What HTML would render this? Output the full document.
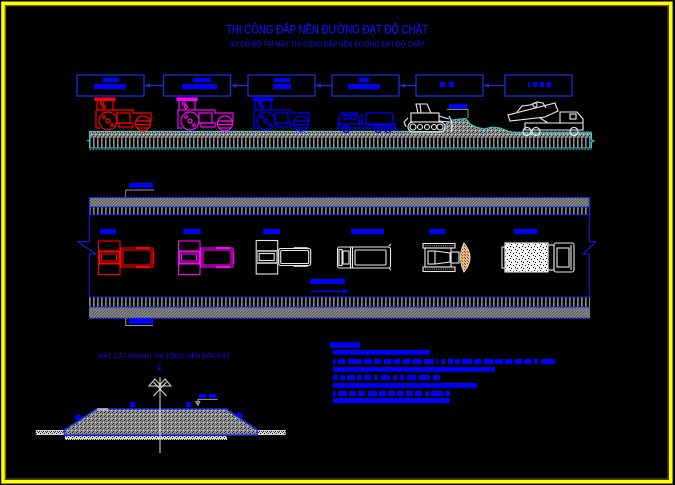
<!DOCTYPE html>
<html>
<head>
<meta charset="utf-8">
<style>
html,body{margin:0;padding:0;background:#000;}
svg{display:block;}
</style>
</head>
<body>
<svg width="675" height="485" viewBox="0 0 675 485" xmlns="http://www.w3.org/2000/svg">
<defs>
  <pattern id="hatch" width="3" height="3" patternUnits="userSpaceOnUse">
    <rect width="3" height="3" fill="#5e5e5e"/>
    <path d="M0 3 L3 0" stroke="#a0a0a0" stroke-width="0.8"/>
  </pattern>
  <pattern id="teeth" width="4" height="20" patternUnits="userSpaceOnUse">
    <rect x="1" y="0" width="1.6" height="20" fill="#8c8c8c"/>
  </pattern>
  <pattern id="gspk" width="4" height="4" patternUnits="userSpaceOnUse">
    <rect width="4" height="4" fill="#8f8f8f"/>
    <rect x="0" y="0" width="1" height="1" fill="#222"/>
    <rect x="2" y="1" width="1" height="1" fill="#333"/>
    <rect x="1" y="3" width="1" height="1" fill="#222"/>
    <rect x="3" y="2" width="1" height="1" fill="#ddd"/>
  </pattern>
  <pattern id="wspk" width="4" height="4" patternUnits="userSpaceOnUse">
    <rect width="4" height="4" fill="#d8d8d8"/>
    <rect x="0" y="1" width="1" height="1" fill="#111"/>
    <rect x="2" y="0" width="1" height="1" fill="#222"/>
    <rect x="3" y="3" width="1" height="1" fill="#111"/>
    <rect x="1" y="3" width="1" height="1" fill="#444"/>
  </pattern>
  <pattern id="wnoise" width="6" height="6" patternUnits="userSpaceOnUse">
    <rect width="6" height="6" fill="#f4f4f4"/>
    <rect x="0" y="0" width="1" height="1" fill="#000"/>
    <rect x="3" y="1" width="1" height="1" fill="#000"/>
    <rect x="5" y="3" width="1" height="1" fill="#000"/>
    <rect x="1" y="4" width="1" height="1" fill="#000"/>
  </pattern>
  <pattern id="orspk" width="3" height="3" patternUnits="userSpaceOnUse">
    <rect width="3" height="3" fill="#f6b07a"/>
    <rect x="0" y="0" width="1" height="1" fill="#553"/>
    <rect x="2" y="2" width="1" height="1" fill="#553"/>
  </pattern>
</defs>

<rect width="675" height="485" fill="#000"/>

<!-- frame -->
<rect x="3" y="3.3" width="667.8" height="478.5" fill="none" stroke="#ffff00" stroke-width="3.6"/>
<rect x="5.6" y="5.8" width="662.5" height="473.3" fill="none" stroke="#7a7a00" stroke-width="1"/>

<!-- titles -->
<text x="226" y="33.5" font-family="Liberation Sans, sans-serif" font-size="12" fill="#1010ff" stroke="#1010ff" stroke-width="0.2" textLength="202" lengthAdjust="spacingAndGlyphs">THI CÔNG ĐẮP NỀN ĐƯỜNG ĐẠT ĐỘ CHẶT</text>
<text x="229" y="46.5" font-family="Liberation Sans, sans-serif" font-size="7" fill="#1010ff" textLength="196" lengthAdjust="spacingAndGlyphs">SƠ ĐỒ BỐ TRÍ MÁY THI CÔNG ĐẮP NỀN ĐƯỜNG ĐẠT ĐỘ CHẶT</text>

<!-- boxes -->
<g fill="none" stroke="#1430d8" stroke-width="1.3">
  <rect x="77" y="75" width="67" height="21"/>
  <rect x="163.5" y="75" width="67" height="21"/>
  <rect x="248" y="75" width="67" height="21"/>
  <rect x="332" y="75" width="67" height="21"/>
  <rect x="416" y="75" width="67" height="21"/>
  <rect x="505" y="75" width="67" height="21"/>
  <line x1="146" y1="85.5" x2="163.5" y2="85.5"/>
  <line x1="233" y1="85.5" x2="248" y2="85.5"/>
  <line x1="317" y1="85.5" x2="332" y2="85.5"/>
  <line x1="401" y1="85.5" x2="416" y2="85.5"/>
  <line x1="485" y1="85.5" x2="505" y2="85.5"/>
</g>
<g fill="#1430d8">
  <path d="M144 85.5 L150 83.5 L150 87.5 Z"/>
  <path d="M230.5 85.5 L236.5 83.5 L236.5 87.5 Z"/>
  <path d="M315 85.5 L321 83.5 L321 87.5 Z"/>
  <path d="M399 85.5 L405 83.5 L405 87.5 Z"/>
  <path d="M483 85.5 L489 83.5 L489 87.5 Z"/>
</g>
<g fill="#0000ff">
  <rect x="103" y="78" width="16" height="4"/><rect x="94" y="84" width="32" height="5"/>
  <rect x="193" y="78" width="18" height="4"/><rect x="182" y="84" width="35" height="5"/>
  <rect x="274" y="78" width="16" height="4"/><rect x="273" y="84" width="18" height="5"/>
  <rect x="359" y="78" width="10" height="4"/><rect x="348" y="84" width="32" height="5"/>
  <rect x="440" y="82" width="5" height="5"/><rect x="449" y="82" width="5" height="5"/>
  <rect x="528" y="82" width="2" height="5"/><rect x="533" y="82" width="4" height="5"/><rect x="540" y="82" width="4" height="5"/><rect x="546.5" y="82" width="4.5" height="5"/>
</g>

<!-- elevation road strip -->
<rect x="89.5" y="131.5" width="502" height="5.5" fill="url(#gspk)"/>
<rect x="89.5" y="137" width="502" height="11" fill="url(#teeth)"/>
<line x1="89.5" y1="137.3" x2="591.5" y2="137.3" stroke="#777" stroke-width="0.8"/>
<line x1="89.5" y1="149.6" x2="591.5" y2="149.6" stroke="#888" stroke-width="1" stroke-dasharray="1.5 1.5"/>
<g stroke="#22d8d8" stroke-width="1.1" fill="none">
  <line x1="89.5" y1="131.5" x2="445" y2="131.5"/>
  <line x1="517" y1="133" x2="592" y2="133"/>
  <line x1="89.5" y1="131" x2="89.5" y2="148"/>
  <line x1="87" y1="140.7" x2="89.5" y2="140.7"/>
  <line x1="89.5" y1="148" x2="591.5" y2="148"/>
  <path d="M591.5 133 L591.5 140 L594 141 L591.5 142 L591.5 148"/>
</g>

<!-- dirt pile -->
<path d="M443 133 L446 124 L452 120 L460 119 L466 118.5 L470 124 L476 127 L484 129 L492 127 L500 128 L508 131 L517 133 Z" fill="url(#gspk)"/>
<path d="M443 132 L446 124 L452 120 L460 119 L466 118.5 L470 124 L476 127 L484 129 L492 127 L500 128 L508 131 L517 133" fill="none" stroke="#22d8d8" stroke-width="1"/>
<rect x="449" y="104" width="18" height="4.3" fill="#0000ff"/>
<path d="M446.7 109.3 H468 V118" fill="none" stroke="#aaa" stroke-width="0.8"/>

<!-- rollers elevation -->
<g stroke="#ff0000" fill="none" stroke-width="1.2">
  <rect x="95" y="98" width="20" height="2.5" fill="#ff0000"/>
  <line x1="97" y1="100" x2="97" y2="110"/>
  <line x1="113" y1="100" x2="113" y2="110"/>
  <circle cx="102" cy="103.5" r="1.6"/>
  <circle cx="104" cy="107" r="1.6"/>
  <path d="M96 110 H133 V113 H151 V121 H138 M96 110 V128 H100"/>
  <rect x="117" y="113" width="13" height="10"/>
  <rect x="119" y="123" width="14" height="4"/>
  <circle cx="108" cy="121" r="9"/>
  <circle cx="108" cy="121" r="2"/>
  <circle cx="104" cy="117" r="1.3"/><circle cx="112" cy="125" r="1.3"/>
  <circle cx="143" cy="123.5" r="7.5"/>
  <line x1="136" y1="121" x2="150" y2="121"/><line x1="135.5" y1="124.5" x2="150.5" y2="124.5"/><line x1="137" y1="128" x2="149" y2="128"/>
</g>
<g transform="translate(82,0)" stroke="#ff00ff" fill="none" stroke-width="1.2">
  <rect x="95" y="98" width="20" height="2.5" fill="#ff00ff"/>
  <line x1="97" y1="100" x2="97" y2="110"/>
  <line x1="113" y1="100" x2="113" y2="110"/>
  <circle cx="102" cy="103.5" r="1.6"/>
  <circle cx="104" cy="107" r="1.6"/>
  <path d="M96 110 H133 V113 H151 V121 H138 M96 110 V128 H100"/>
  <rect x="117" y="113" width="13" height="10"/>
  <rect x="119" y="123" width="14" height="4"/>
  <circle cx="108" cy="121" r="9"/>
  <circle cx="108" cy="121" r="2"/>
  <circle cx="104" cy="117" r="1.3"/><circle cx="112" cy="125" r="1.3"/>
  <circle cx="143" cy="123.5" r="7.5"/>
  <line x1="136" y1="121" x2="150" y2="121"/><line x1="135.5" y1="124.5" x2="150.5" y2="124.5"/><line x1="137" y1="128" x2="149" y2="128"/>
</g>
<g transform="translate(158,0)" stroke="#0000ff" fill="none" stroke-width="1.2">
  <rect x="95" y="98" width="20" height="2.5" fill="#0000ff"/>
  <line x1="97" y1="100" x2="97" y2="110"/>
  <line x1="113" y1="100" x2="113" y2="110"/>
  <circle cx="102" cy="103.5" r="1.6"/>
  <circle cx="104" cy="107" r="1.6"/>
  <path d="M96 110 H133 V113 H151 V121 H138 M96 110 V128 H100"/>
  <rect x="117" y="113" width="13" height="10"/>
  <rect x="119" y="123" width="14" height="4"/>
  <circle cx="108" cy="121" r="9"/>
  <circle cx="108" cy="121" r="2"/>
  <circle cx="104" cy="117" r="1.3"/><circle cx="112" cy="125" r="1.3"/>
  <circle cx="143" cy="123.5" r="7.5"/>
  <line x1="136" y1="121" x2="150" y2="121"/><line x1="135.5" y1="124.5" x2="150.5" y2="124.5"/><line x1="137" y1="128" x2="149" y2="128"/>
</g>

<!-- water truck elevation -->
<g stroke="#0000ff" fill="none" stroke-width="1.3">
  <path d="M339 126 V118 L342 113 H357 L359 119 V126"/>
  <rect x="344" y="115" width="5" height="4"/>
  <rect x="351" y="115" width="5" height="4"/>
  <rect x="366" y="113" width="27" height="12" rx="2"/>
  <line x1="362" y1="114" x2="362" y2="125"/>
  <rect x="338" y="124" width="57" height="4"/>
  <circle cx="346" cy="129" r="3.5"/>
  <circle cx="378" cy="129" r="3.5"/>
  <circle cx="388" cy="129" r="3.5"/>
  <path d="M395 128 L399 131"/>
</g>

<!-- bulldozer elevation -->
<g stroke="#f0f0f0" fill="none" stroke-width="1.1">
  <path d="M418 113 L416 104 H427 L431 113"/>
  <line x1="420" y1="104" x2="421" y2="113"/>
  <rect x="411" y="113" width="28" height="9"/>
  <rect x="408" y="122" width="37" height="10" rx="5"/>
  <circle cx="413" cy="127" r="3"/><circle cx="420" cy="127" r="2.5"/><circle cx="427" cy="127" r="2.5"/><circle cx="434" cy="127" r="2.5"/><circle cx="440" cy="127" r="3"/>
  <path d="M439 116 L449 119 M439 121 L449 122"/>
  <path d="M449 116 Q454 124 451 132"/>
  <path d="M408 118 L404 122 L406 127"/>
</g>

<!-- dump truck elevation -->
<g stroke="#f0f0f0" fill="none" stroke-width="1.1">
  <path d="M510 121 L508 115 L555 103 L558 111 L545 117 Z"/>
  <path d="M517 112 L522 106 L530 105 L537 102 L543 103 L546 108" />
  <circle cx="535" cy="105" r="2"/>
  <path d="M525 123 H583 V130 H525 Z"/>
  <path d="M560 123 V112 H577 L583 119 V123"/>
  <rect x="570" y="114" width="6" height="5"/>
  <line x1="540" y1="118" x2="548" y2="123"/>
  <circle cx="527" cy="131.5" r="4"/>
  <circle cx="536" cy="131.5" r="4"/>
  <circle cx="574" cy="131.5" r="4"/>
</g>

<!-- plan view road -->
<rect x="89" y="197.5" width="501" height="9.5" fill="url(#hatch)"/>
<rect x="89" y="207" width="501" height="8" fill="url(#teeth)"/>
<line x1="89" y1="209" x2="590" y2="209" stroke="#777" stroke-width="1" stroke-dasharray="2 2"/>
<rect x="89" y="297" width="501" height="10" fill="url(#teeth)"/>
<line x1="89" y1="299" x2="590" y2="299" stroke="#777" stroke-width="1" stroke-dasharray="2 2"/>
<rect x="89" y="307" width="501" height="11" fill="url(#hatch)"/>
<g stroke="#1020e0" stroke-width="1.1" fill="none">
  <line x1="89" y1="197.5" x2="590" y2="197.5"/>
  <line x1="89" y1="207" x2="590" y2="207"/>
  <line x1="89" y1="214.8" x2="590" y2="214.8"/>
  <line x1="89" y1="297" x2="590" y2="297"/>
  <line x1="89" y1="307" x2="590" y2="307"/>
  <line x1="89" y1="318.3" x2="590" y2="318.3"/>
  <path d="M89.3 197.5 V241.7 H77.7 L95.7 254 H89.3 V297"/>
  <path d="M589.3 197.5 V241.7 H595.7 L583.3 254 H589.3 V297"/>
</g>
<!-- plan leaders -->
<rect x="129" y="183" width="24" height="4.7" fill="#0000ff"/>
<path d="M154 190 H125.7 V197" fill="none" stroke="#999" stroke-width="0.9"/>
<rect x="129" y="318.5" width="24" height="5.5" fill="#0000ff"/>
<path d="M125.7 318 V326 M125.7 325.5 H153" fill="none" stroke="#999" stroke-width="0.9"/>

<!-- plan vehicle labels -->
<g fill="#0000ff">
  <rect x="100" y="229" width="16" height="5"/>
  <rect x="183.3" y="229" width="17.5" height="5"/>
  <rect x="263" y="229" width="17" height="5"/>
  <rect x="351" y="229" width="33" height="5"/>
  <rect x="429" y="229" width="16" height="5"/>
  <rect x="514" y="229" width="23.3" height="5"/>
  <rect x="310" y="279" width="35" height="5"/>
</g>
<line x1="311" y1="291.3" x2="345" y2="291.3" stroke="#0000ff" stroke-width="1.3"/>
<path d="M349.5 291.3 L343 289 L343 293.6 Z" fill="#0000ff"/>

<!-- plan rollers -->
<g stroke="#ff0000" fill="none" stroke-width="1.1">
  <rect x="98.5" y="241" width="21.5" height="33.5"/>
  <rect x="99" y="251.5" width="20.5" height="12" stroke-width="2"/>
  <rect x="101.5" y="254" width="15" height="7"/>
  <rect x="121" y="248" width="32" height="19"/>
  <rect x="123" y="250" width="28" height="15"/>
  <line x1="136" y1="248" x2="150" y2="248" stroke-width="2"/>
  <line x1="136" y1="267" x2="150" y2="267" stroke-width="2"/>
  <line x1="153.5" y1="251" x2="153.5" y2="264" stroke-width="1.6"/>
</g>
<g transform="translate(80,0)" stroke="#ff00ff" fill="none" stroke-width="1.1">
  <rect x="98.5" y="241" width="21.5" height="33.5"/>
  <rect x="99" y="251.5" width="20.5" height="12" stroke-width="2"/>
  <rect x="101.5" y="254" width="15" height="7"/>
  <rect x="121" y="248" width="32" height="19"/>
  <rect x="123" y="250" width="28" height="15"/>
  <line x1="136" y1="248" x2="150" y2="248" stroke-width="2"/>
  <line x1="136" y1="267" x2="150" y2="267" stroke-width="2"/>
  <line x1="153.5" y1="251" x2="153.5" y2="264" stroke-width="1.6"/>
</g>
<g transform="translate(157.7,-0.5)" stroke="#e8e8e8" fill="none" stroke-width="1.1">
  <rect x="98.5" y="241" width="21.5" height="33.5"/>
  <rect x="99" y="251.5" width="20.5" height="12" stroke="#aaa" stroke-width="2"/>
  <rect x="101.5" y="254" width="15" height="7"/>
  <rect x="121" y="249" width="32" height="17" rx="2"/>
  <rect x="123" y="251" width="28" height="13" rx="1"/>
  <line x1="136" y1="248.5" x2="150" y2="248.5" stroke-width="1.6"/>
  <line x1="136" y1="266.5" x2="150" y2="266.5" stroke-width="1.6"/>
</g>

<!-- plan water truck -->
<g stroke="#e8e8e8" fill="none" stroke-width="1.1">
  <rect x="337.5" y="247" width="53" height="21" rx="2"/>
  <rect x="339" y="249.5" width="3" height="16"/>
  <rect x="343" y="251" width="6" height="13"/>
  <line x1="350.5" y1="247" x2="350.5" y2="268"/>
  <line x1="352.5" y1="247" x2="352.5" y2="268"/>
  <rect x="355" y="250" width="31" height="15" rx="1"/>
  <path d="M389 246 L391 244 M389 268 L391 270"/>
</g>

<!-- plan bulldozer -->
<g stroke="#e8e8e8" fill="none" stroke-width="1.1">
  <rect x="423" y="243.5" width="32" height="4.5"/>
  <rect x="423" y="267" width="32" height="4.5"/>
  <line x1="423" y1="245.8" x2="455" y2="245.8" stroke="#999" stroke-dasharray="1 1.2"/>
  <line x1="423" y1="269.2" x2="455" y2="269.2" stroke="#999" stroke-dasharray="1 1.2"/>
  <rect x="425" y="248" width="26" height="19"/>
  <rect x="428" y="251" width="7" height="13"/>
  <path d="M435 251 L450 253 V262 L435 264"/>
  <rect x="451" y="252" width="8" height="11"/>
</g>
<path d="M464 243 Q457 257.5 464 272 Q476 257.5 464 243 Z" fill="url(#orspk)" stroke="#e8e8e8" stroke-width="0.9"/>

<!-- plan dump truck -->
<g stroke="#e8e8e8" fill="none" stroke-width="1.1">
  <rect x="502" y="247" width="3" height="21"/>
  <rect x="505" y="243" width="43" height="29" fill="url(#wnoise)"/>
  <rect x="548" y="245" width="6" height="25"/>
  <rect x="554" y="243" width="20" height="29" rx="2"/>
  <rect x="557" y="248" width="12" height="19"/>
  <line x1="571" y1="245" x2="571" y2="270"/>
</g>

<!-- cross section -->
<text x="98" y="358" font-family="Liberation Sans, sans-serif" font-size="6.5" fill="#1010ff" textLength="132" lengthAdjust="spacingAndGlyphs">MẶT CẮT NGANG THI CÔNG NỀN ĐẮP ĐẤT</text>
<text x="157" y="369" font-family="Liberation Sans, sans-serif" font-size="7" fill="#1010ff">C</text>
<text x="158.5" y="371" font-family="Liberation Sans, sans-serif" font-size="6" fill="#1010ff">L</text>
<rect x="35.7" y="430" width="28.6" height="5" fill="url(#wspk)"/>
<rect x="257.3" y="430" width="28.4" height="5" fill="url(#wspk)"/>
<rect x="65" y="436" width="162" height="4" fill="url(#wspk)"/>
<path d="M64.3 430 L96.7 409 L226 409 L257.3 430 L257.3 435 L64.3 435 Z" fill="url(#gspk)" stroke="#1a2ee8" stroke-width="1.5"/>
<line x1="97" y1="409" x2="108" y2="409" stroke="#eee" stroke-width="1.2"/>
<g stroke="#e0e0e0" stroke-width="1" fill="none">
  <line x1="160" y1="377" x2="160" y2="453"/>
  <path d="M149 386 L155 379 L161 386 Z"/>
  <path d="M159 386 L165 379 L171 386 Z"/>
  <path d="M153.5 382 L166.5 396 M166.5 382 L153.5 396"/>
</g>
<g fill="#0000ff">
  <rect x="130" y="402" width="5" height="5"/>
  <rect x="186" y="402" width="5" height="5"/>
  <rect x="199" y="394" width="7" height="4"/>
  <rect x="209" y="394" width="7" height="4"/>
  <rect x="75" y="415" width="6" height="4.5" transform="rotate(-25 78 417)"/>
  <rect x="237" y="413" width="6" height="4.5" transform="rotate(30 240 415)"/>
</g>
<path d="M217.7 399.3 H198 V406 M195.5 401.5 H200 L198 405 Z" fill="none" stroke="#bbb" stroke-width="0.8"/>

<!-- notes -->
<g fill="#0000ff">
  <rect x="330" y="342.3" width="30" height="5"/>
  <rect x="330" y="347.3" width="30" height="1" fill="#0000a0"/>
  <rect x="333" y="350" width="97" height="4.7"/>
  <rect x="333" y="367" width="162" height="4.7"/>
  <rect x="333" y="383" width="144" height="4.7"/>
  <rect x="333" y="398" width="117" height="5"/>
  <rect x="333" y="359" width="2.7" height="5"/><rect x="338" y="359" width="7.3" height="5"/><rect x="348" y="359" width="14" height="5"/><rect x="364" y="359" width="8" height="5"/><rect x="374" y="359" width="7.3" height="5"/><rect x="384" y="359" width="7.3" height="5"/><rect x="393.3" y="359" width="7" height="5"/><rect x="403" y="359" width="7.3" height="5"/><rect x="412.3" y="359" width="9.7" height="5"/><rect x="424" y="359" width="10" height="5"/><rect x="436" y="359" width="1.7" height="5"/><rect x="441" y="359" width="4.3" height="5"/><rect x="448" y="359" width="5" height="5"/><rect x="455" y="359" width="5" height="5"/><rect x="462" y="359" width="10" height="5"/><rect x="474" y="359" width="7.3" height="5"/><rect x="484" y="359" width="9.3" height="5"/><rect x="495" y="359" width="8" height="5"/><rect x="505" y="359" width="7.3" height="5"/><rect x="515" y="359" width="7.3" height="5"/><rect x="524.3" y="359" width="7.4" height="5"/><rect x="534" y="359" width="4" height="5"/><rect x="541" y="359" width="14.3" height="5"/>
  <rect x="333" y="375" width="4.7" height="5"/><rect x="340" y="375" width="5" height="5"/><rect x="347" y="375" width="8.3" height="5"/><rect x="357" y="375" width="5" height="5"/><rect x="364" y="375" width="7.3" height="5"/><rect x="374" y="375" width="4" height="5"/><rect x="381" y="375" width="9" height="5"/><rect x="393" y="375" width="4.3" height="5"/><rect x="400" y="375" width="4" height="5"/><rect x="407" y="375" width="9.3" height="5"/><rect x="418.7" y="375" width="11.3" height="5"/><rect x="433" y="375" width="7" height="5"/>
  <rect x="333" y="391" width="2.7" height="5"/><rect x="338" y="391" width="9" height="5"/><rect x="349.3" y="391" width="6.7" height="5"/><rect x="358" y="391" width="7" height="5"/><rect x="368" y="391" width="9" height="5"/><rect x="379" y="391" width="7" height="5"/><rect x="388" y="391" width="7" height="5"/><rect x="397" y="391" width="6.7" height="5"/><rect x="406" y="391" width="6.7" height="5"/><rect x="415" y="391" width="7" height="5"/><rect x="425" y="391" width="4" height="5"/><rect x="431" y="391" width="12.3" height="5"/><rect x="445.3" y="391" width="4.7" height="5"/>
</g>
</svg>
</body>
</html>
